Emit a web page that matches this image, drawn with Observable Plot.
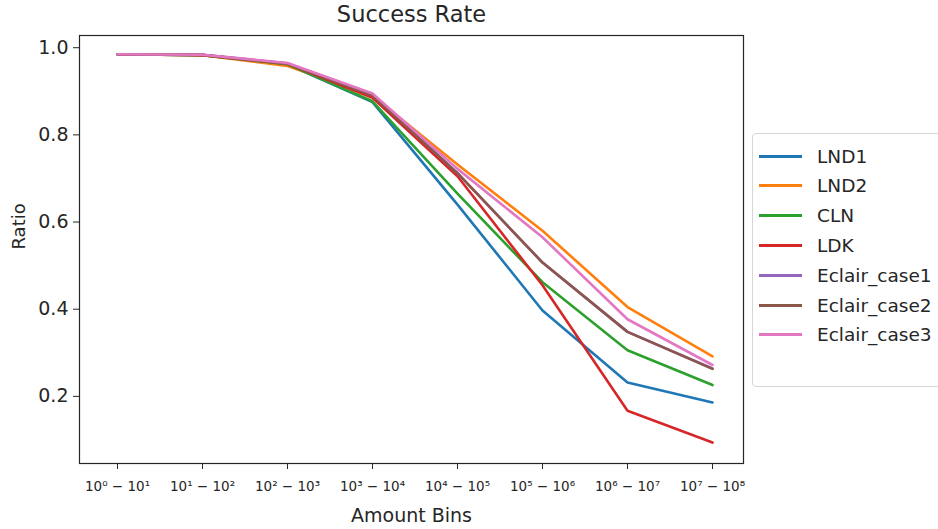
<!DOCTYPE html>
<html>
<head>
<meta charset="utf-8">
<script src="https://cdn.jsdelivr.net/npm/d3@7"></script>
<script src="https://cdn.jsdelivr.net/npm/@observablehq/plot@0.6"></script>
<style>
  body { margin: 0; background: #fff; font-family: "DejaVu Sans", sans-serif; }
  #wrap { position: relative; width: 938px; height: 529px; overflow: hidden; }
  #legend { position: absolute; left: 752px; top: 133px; width: 200px; height: 254px;
    border: 1px solid #d6d6d6; border-radius: 4px; background: #fff; box-sizing: border-box; }
  .item { position: absolute; left: 0; height: 20px; display: flex; align-items: center; }
  .swatch { width: 43px; height: 3px; margin-left: 6px; margin-right: 15px; }
  .label { font-size: 18.5px; color: #262626; white-space: nowrap; }
</style>
</head>
<body>
<div id="wrap"></div>
<script>
const bins = ["10⁰ − 10¹", "10¹ − 10²", "10² − 10³", "10³ − 10⁴", "10⁴ − 10⁵", "10⁵ − 10⁶", "10⁶ − 10⁷", "10⁷ − 10⁸"];
const seriesNames = ["LND1", "LND2", "CLN", "LDK", "Eclair_case1", "Eclair_case2", "Eclair_case3"];
const colors = ["#1f77b4", "#ff7f0e", "#2ca02c", "#d62728", "#9467bd", "#8c564b", "#e377c2"];
const LND1 = [0.985, 0.983, 0.962, 0.875, 0.640, 0.397, 0.232, 0.186];
const LND2 = [0.985, 0.983, 0.958, 0.890, 0.732, 0.580, 0.405, 0.292];
const CLN = [0.985, 0.983, 0.962, 0.877, 0.665, 0.462, 0.306, 0.226];
const LDK = [0.985, 0.983, 0.963, 0.885, 0.705, 0.455, 0.167, 0.094];
const Eclair_case1 = [0.985, 0.984, 0.964, 0.893, 0.712, 0.507, 0.348, 0.264];
const Eclair_case2 = [0.985, 0.984, 0.963, 0.890, 0.712, 0.507, 0.348, 0.263];
const Eclair_case3 = [0.985, 0.984, 0.965, 0.895, 0.722, 0.565, 0.377, 0.272];
const yTicks = [0.2, 0.4, 0.6, 0.8, 1.0];

const allSeries = [LND1, LND2, CLN, LDK, Eclair_case1, Eclair_case2, Eclair_case3];
const rows = [];
allSeries.forEach((vals, si) => vals.forEach((v, i) => rows.push({series: seriesNames[si], bin: bins[i], value: v})));

const chart = Plot.plot({
  width: 938,
  height: 529,
  marginLeft: 79,
  marginRight: 195,
  marginTop: 35,
  marginBottom: 66,
  style: {fontFamily: "DejaVu Sans, sans-serif", color: "#262626", background: "#fff"},
  x: {type: "point", domain: bins, range: [114, 714], padding: 0},
  y: {domain: [0.046, 1.028]},
  color: {domain: seriesNames, range: colors},
  marks: [
    Plot.frame({stroke: "#262626", strokeWidth: 1.2}),
    Plot.axisX({tickSize: 6, tickPadding: 12, fontSize: 13.5, label: null, stroke: "#262626"}),
    Plot.axisY({ticks: yTicks, tickFormat: d3.format(".1f"), tickSize: 6, tickPadding: 5, fontSize: 19, label: null}),
    Plot.text(["Amount Bins"], {frameAnchor: "bottom", lineAnchor: "middle", dy: 52, fontSize: 19, fill: "#262626"}),
    Plot.text(["Ratio"], {frameAnchor: "left", dx: -60, rotate: -90, fontSize: 18, fill: "#262626"}),
    Plot.text(["Success Rate"], {frameAnchor: "top", lineAnchor: "middle", dy: -21, fontSize: 22.5, fill: "#262626"}),
    Plot.line(rows, {x: "bin", y: "value", z: "series", stroke: "series", strokeWidth: 2.6})
  ]
});
const wrap = document.getElementById("wrap");
wrap.appendChild(chart);

const legend = document.createElement("div");
legend.id = "legend";
seriesNames.forEach((name, i) => {
  const item = document.createElement("div");
  item.className = "item";
  item.style.top = (12 + i * 29.8) + "px";
  const sw = document.createElement("div");
  sw.className = "swatch";
  sw.style.background = colors[i];
  const lb = document.createElement("span");
  lb.className = "label";
  lb.textContent = name;
  item.appendChild(sw);
  item.appendChild(lb);
  legend.appendChild(item);
});
wrap.appendChild(legend);
</script>
</body>
</html>
